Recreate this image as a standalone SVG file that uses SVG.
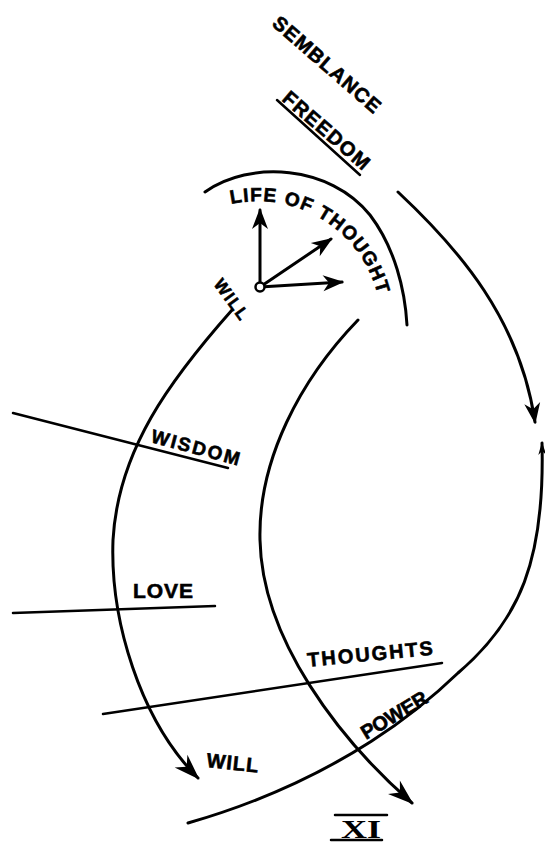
<svg xmlns="http://www.w3.org/2000/svg" width="545" height="843" viewBox="0 0 545 843">
<style>
.c{fill:none;stroke:#000;stroke-width:3;stroke-linecap:round}
.l{fill:none;stroke:#000;stroke-width:2.5;stroke-linecap:round}
.t{font-family:"Liberation Sans","DejaVu Sans",sans-serif;font-weight:bold;fill:#000;stroke:#000;stroke-width:0.6}
</style>
<defs>
<marker id="ah" markerUnits="userSpaceOnUse" markerWidth="40" markerHeight="30" refX="0" refY="0" viewBox="-30 -15 40 30" orient="auto" overflow="visible">
<path d="M2,0 L-24,-9 L-16,0 L-24,9 Z" fill="#000"/>
</marker>
<marker id="as" markerUnits="userSpaceOnUse" markerWidth="30" markerHeight="20" refX="0" refY="0" viewBox="-25 -10 30 20" orient="auto" overflow="visible">
<path d="M2,0 L-19,-8 L-13,0 L-19,8 Z" fill="#000"/>
</marker>
<marker id="at" markerUnits="userSpaceOnUse" markerWidth="20" markerHeight="20" refX="0" refY="0" viewBox="-15 -8 20 16" orient="auto-start-reverse" overflow="visible">
<path d="M1,0 L-12,-4 L-8,0 L-12,4 Z" fill="#000"/>
</marker>
<path id="lotArc" d="M231,204 A124,124 0 0 1 381,314"/>
</defs>

<g id="connectors">
<path class="c" d="M232,310 C170,380 118,450 113,540 C110,620 140,720 198,778" marker-end="url(#ah)"/>
<path class="c" d="M358,320 C300,380 258,460 260,540 C262,640 340,740 412,803" marker-end="url(#ah)"/>
<path class="c" d="M205,192 C250,160 330,165 370,215 C395,248 405,290 407,325"/>
<path class="c" d="M398,192 C460,250 520,320 535,422" marker-end="url(#as)"/>
<path class="c" d="M542,443 C545,560 520,620 458,673 C430,700 345,778 188,823" marker-start="url(#at)"/>
<line class="c" x1="260" y1="287" x2="260" y2="210" marker-end="url(#as)"/>
<line class="c" x1="260" y1="287" x2="331" y2="239" marker-end="url(#as)"/>
<line class="c" x1="260" y1="287" x2="342" y2="282" marker-end="url(#as)"/>
<line class="l" x1="13" y1="413" x2="228" y2="468"/>
<line class="l" x1="13" y1="613" x2="215" y2="606"/>
<line class="l" x1="103" y1="714" x2="442" y2="663"/>
<line class="l" x1="277" y1="100" x2="360" y2="175"/>
<line class="l" x1="335" y1="815" x2="387" y2="815"/>
<line class="l" x1="331" y1="840" x2="382" y2="840"/>
</g>

<g id="will-point">
<circle cx="260" cy="287" r="4.5" fill="#fff" stroke="#000" stroke-width="2.5"/>
</g>

<g id="semblance">
<text class="t" font-size="20" transform="translate(271,25) rotate(41)" textLength="136" lengthAdjust="spacing">SEMBLANCE</text>
</g>
<g id="freedom">
<text class="t" font-size="20" transform="translate(281,100) rotate(41)" textLength="108" lengthAdjust="spacing">FREEDOM</text>
</g>
<g id="life-of-thought">
<text class="t" font-size="19"><textPath href="#lotArc" textLength="190" lengthAdjust="spacing">LIFE OF THOUGHT</textPath></text>
</g>
<g id="will-top">
<text class="t" font-size="17" transform="translate(213,284) rotate(54)" textLength="46" lengthAdjust="spacing">WILL</text>
</g>
<g id="wisdom">
<text class="t" font-size="19" transform="translate(150,442) rotate(15)" textLength="91" lengthAdjust="spacing">WISDOM</text>
</g>
<g id="love">
<text class="t" font-size="21" x="133" y="598" textLength="60" lengthAdjust="spacing">LOVE</text>
</g>
<g id="thoughts">
<text class="t" font-size="20" transform="translate(308,667) rotate(-5.6)" textLength="126" lengthAdjust="spacing">THOUGHTS</text>
</g>
<g id="power">
<text class="t" font-size="20" transform="translate(366,740) rotate(-31)" textLength="74" lengthAdjust="spacing">POWER</text>
</g>
<g id="will-bottom">
<text class="t" font-size="20" transform="translate(206,767) rotate(6)" textLength="52" lengthAdjust="spacing">WILL</text>
</g>
<g id="numeral">
<text font-family="'Liberation Serif',serif" font-weight="bold" font-size="26" x="341" y="838" textLength="40" lengthAdjust="spacingAndGlyphs">XI</text>
</g>
</svg>
